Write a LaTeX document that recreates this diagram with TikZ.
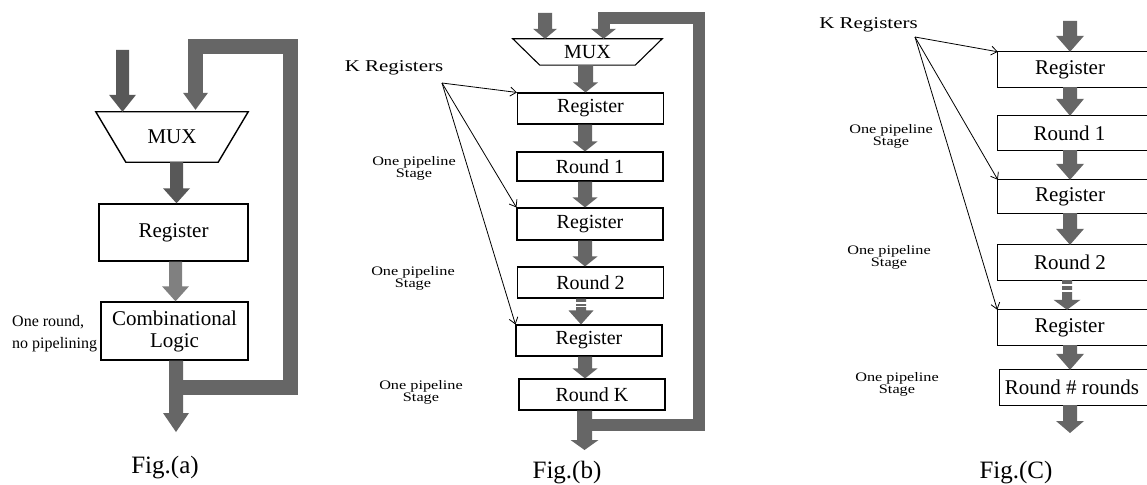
\documentclass[tikz,border=0pt]{standalone}
\usepackage{graphicx}
\usepackage{fontspec}
\setmainfont{Liberation Serif}
\usetikzlibrary{calc,arrows.meta}
\definecolor{agray}{RGB}{102,102,102}
\definecolor{agrayd}{RGB}{88,88,88}
\definecolor{agrayl}{RGB}{128,128,128}
\tikzset{
  boxa/.style={draw=black, line width=1.4pt, inner sep=0pt, font=\fontsize{21}{22}\selectfont},
  boxb/.style={draw=black, line width=1.1pt, inner sep=0pt, minimum width=146pt, font=\fontsize{20}{22}\selectfont},
  boxc/.style={inner sep=0pt, minimum width=144pt, font=\fontsize{21}{22}\selectfont},
  openbox/.style={draw=black, line width=1.1pt},
  fb/.style={draw=agray, line join=miter, line cap=butt},
  thinarrow/.style={draw=black, line width=0.8pt, -{Straight Barb[length=6pt,width=9pt,line width=0.8pt]}},
  stagelbl/.style={inner sep=0pt, font=\fontsize{13}{11}\selectfont},
  klbl/.style={inner sep=0pt, font=\fontsize{16.5}{18}\selectfont},
  figlbl/.style={inner sep=0pt, anchor=base, font=\fontsize{25}{30}\selectfont},
  gapline/.style={draw=white, line width=1.6pt}
}
% [colour]{from}{to}{shaft half width}{head half width}{head length}
\newcommand\fatarrow[6][agray]{\fill[#1] let \p1=(#2), \p2=(#3) in
  (\x1-#4,\y1) -- (\x1+#4,\y1) -- (\x1+#4,\y2+#6) -- (\x1+#5,\y2+#6) -- (\x1,\y2)
  -- (\x1-#5,\y2+#6) -- (\x1-#4,\y2+#6) -- cycle;}
% [colour]{tip}{head half width}{head length}
\newcommand\fathead[4][agray]{\fill[#1] let \p1=(#2) in
  (\x1-#3,\y1+#4) -- (\x1+#3,\y1+#4) -- (\x1,\y1) -- cycle;}
\newcommand\stagetext{\scalebox{1.25}[1]{\begin{tabular}{@{}c@{}}One pipeline\\Stage\end{tabular}}}
\newcommand\ktext{\scalebox{1.27}[1]{K Registers}}
\begin{document}
\begin{tikzpicture}[x=1pt,y=-1pt]
\useasboundingbox (0,0) rectangle (1147,484);
\fill[white] (0,0) rectangle (1147,484);
\clip (0,0) rectangle (1147,484);

% ================= Fig (a) =================
\node[inner sep=0pt, minimum width=152pt, minimum height=50pt, font=\fontsize{21}{22}\selectfont] (muxa) at (172,137) {MUX};
\draw[line width=1.4pt, line join=miter] (muxa.north west) -- (muxa.north east) -- ($(muxa.south east)+(-30,0)$) -- ($(muxa.south west)+(30,0)$) -- cycle;
\node[boxa, minimum width=149pt, minimum height=57pt] (rega) at (173.5,232.5) {Register};
\node[boxa, minimum width=147pt, minimum height=58pt, align=center, font=\fontsize{21}{22}\selectfont] (comba) at (174.5,331) {Combinational\\Logic};
\node[inner sep=0pt, anchor=west, align=left, font=\fontsize{16}{22}\selectfont] (lbla) at (12,334) {One round,\\no pipelining};
\coordinate (ina1) at (122.5,50);
\coordinate (outa) at (176,432);
\coordinate (fbA) at (183,387.5);
\coordinate (fbTa) at (195.5,47);
\fatarrow[agrayd]{ina1}{muxa.north}{6.5pt}{13.5pt}{17pt}
\fatarrow[agrayd]{$(muxa.south)+(4.5,0)$}{rega.north}{6.5pt}{13.5pt}{15pt}
\fatarrow[agrayl]{$(rega.south)+(2,0)$}{comba.north}{6.5pt}{13.5pt}{15pt}
\fatarrow{$(comba.south)+(1.5,0)$}{outa}{7pt}{13pt}{19pt}
\draw[fb, line width=15pt] (fbA) -- ++(107,0) |- (fbTa) -- ($(muxa.north)+(23.5,-18.5)$);
\fathead{$(muxa.north)+(23.5,-2)$}{12.5pt}{17pt}
\node[figlbl] (figa) at (165,473) {Fig.(a)};

% ================= Fig (b) =================
\node[inner sep=0pt, minimum width=149pt, minimum height=26pt, font=\fontsize{20}{22}\selectfont] (muxb) at (587.5,52) {MUX};
\draw[line width=1.1pt, line join=miter] (muxb.north west) -- (muxb.north east) -- ($(muxb.south east)+(-27,0)$) -- ($(muxb.south west)+(27,0)$) -- cycle;
\node[boxb, minimum height=31pt] (reg1b) at (590.5,108.5) {Register};
\node[boxb, minimum height=29pt] (r1b) at (590,166.5) {Round 1};
\node[boxb, minimum height=32pt] (reg2b) at (590,224) {Register};
\node[boxb, minimum height=31pt] (r2b) at (590.5,282.5) {Round 2};
\node[boxb, minimum height=31pt] (reg3b) at (589,340.5) {Register};
\node[boxb, minimum height=31pt] (rkb) at (592,394.5) {Round K};
\coordinate (inb1) at (545,13);
\coordinate (outb) at (584.5,450);
\coordinate (fbB) at (592,425);
\coordinate (fbTb) at (603.5,18);
\fatarrow{inb1}{muxb.north}{7pt}{12pt}{10pt}
\draw[fb, line width=12pt] (fbB) -- ++(106.5,0) |- (fbTb) -- ($(muxb.north)+(16,-9.5)$);
\fathead{$(muxb.north)+(16,0)$}{12.5pt}{10pt}
\fatarrow{$(muxb.south)+(-2,0)$}{reg1b.north}{7.5pt}{12.5pt}{10pt}
\fatarrow{$(reg1b.south)+(-5.5,0)$}{r1b.north}{7pt}{12.5pt}{10pt}
\fatarrow{$(r1b.south)+(-5,0)$}{reg2b.north}{7pt}{12.5pt}{10pt}
\fatarrow{$(reg2b.south)+(-5,0)$}{r2b.north}{7pt}{12.5pt}{10pt}
\fatarrow{$(r2b.south)+(-9.5,0)$}{reg3b.north}{5pt}{12.5pt}{14pt}
\draw[gapline] ($(r2b.south)+(-16,4.5)$) -- ++(14,0);
\draw[gapline] ($(r2b.south)+(-16,8)$) -- ++(14,0);
\fatarrow{$(reg3b.south)+(-4,0)$}{rkb.north}{7pt}{12.5pt}{10pt}
\fatarrow{$(rkb.south)+(-7.5,0)$}{outb}{7.5pt}{14pt}{10pt}
\node[klbl] (kb) at (394,68) {\ktext};
\coordinate (kbo) at (442,83);
\draw[thinarrow] (kbo) -- (reg1b.north west);
\draw[thinarrow] (kbo) -- (reg2b.north west);
\draw[thinarrow] (kbo) -- (reg3b.north west);
\node[stagelbl] (sb1) at (414,169) {\stagetext};
\node[stagelbl] (sb2) at (413,278.5) {\stagetext};
\node[stagelbl] (sb3) at (421,392.5) {\stagetext};
\node[figlbl] (figb) at (567,478) {Fig.(b)};

% ================= Fig (C) =================
\node[boxc, minimum height=35pt] (reg1c) at (1070,69.5) {Register};
\node[boxc, minimum height=34pt] (r1c) at (1069.5,133) {Round 1};
\node[boxc, minimum height=33pt] (reg2c) at (1070,196.5) {Register};
\node[boxc, minimum height=35pt] (r2c) at (1070,262.5) {Round 2};
\node[boxc, minimum height=35pt] (reg3c) at (1069.5,327.5) {Register};
\node[boxc, minimum height=35pt] (rnc) at (1072,387.5) {Round \# rounds};
\foreach \b in {reg1c,r1c,reg2c,r2c,reg3c,rnc}{
  \draw[openbox] ($(\b.north east)+(30,0)$) -- (\b.north west) -- (\b.south west) -- ($(\b.south east)+(30,0)$);
}
\coordinate (inc) at (1070,21);
\coordinate (outc) at (1070,433);
\fatarrow{inc}{reg1c.north}{7pt}{14pt}{16pt}
\fatarrow{reg1c.south}{r1c.north}{7pt}{14pt}{17pt}
\fatarrow{$(r1c.south)+(0.5,0)$}{reg2c.north}{7pt}{14pt}{16pt}
\fatarrow{reg2c.south}{r2c.north}{7pt}{14pt}{16pt}
\fatarrow{$(r2c.south)+(-3,0)$}{reg3c.north}{5pt}{13.5pt}{10pt}
\draw[gapline] ($(r2c.south)+(-9,5)$) -- ++(12,0);
\draw[gapline] ($(r2c.south)+(-9,10.5)$) -- ++(12,0);
\fatarrow{$(reg3c.south)+(0.5,0)$}{rnc.north}{7pt}{14pt}{16pt}
\fatarrow{$(rnc.south)+(-2,0)$}{outc}{7pt}{14pt}{12pt}
\node[klbl] (kc) at (868.5,25) {\ktext};
\coordinate (kco) at (915,37);
\draw[thinarrow] (kco) -- (reg1c.north west);
\draw[thinarrow] (kco) -- (reg2c.north west);
\draw[thinarrow] (kco) -- (reg3c.north west);
\node[stagelbl] (sc1) at (891,136.5) {\stagetext};
\node[stagelbl] (sc2) at (889,257.5) {\stagetext};
\node[stagelbl] (sc3) at (897,385) {\stagetext};
\node[figlbl] (figc) at (1016,478) {Fig.(C)};
\end{tikzpicture}
\end{document}
